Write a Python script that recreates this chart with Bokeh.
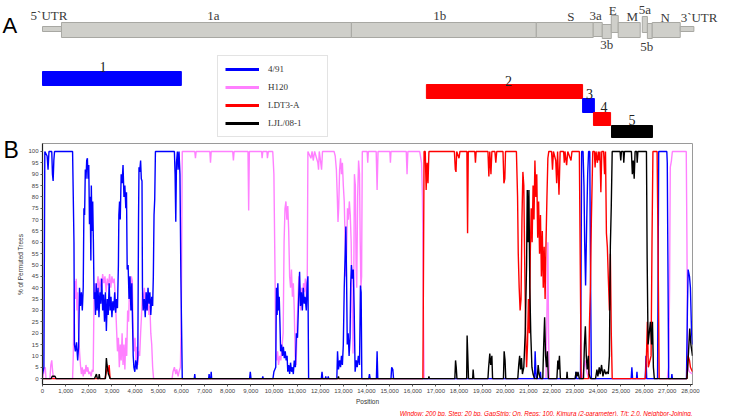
import math
from bokeh.plotting import figure
from bokeh.models import (Range1d, FixedTicker, NumeralTickFormatter,
                          Legend, LegendItem, Title, ColumnDataSource)
from bokeh.layouts import column, row
from bokeh.embed import file_html
from bokeh.resources import INLINE
from bokeh.core.properties import value

# ---------------- data ----------------
series_names = ["4/91", "H120", "LDT3-A", "LJL/08-1"]
series_colors = ["#0000FF", "#FF80FF", "#FF0000", "#000000"]

s_491 = [(0,2),(60,5),(100,100),(200,98),(240,92),(280,100),(400,100),(430,90),(460,87),(490,96),(520,100),
 (1300,100),(1360,60),(1380,15),(1420,12),(1470,16),(1520,8),(1560,14),(1600,40),(1640,32),(1680,38),(1720,30),
 (1760,40),(1790,75),(1820,72),(1850,92),(1880,88),(1910,96),(1940,97),(1970,88),(2000,94),(2030,68),(2060,80),
 (2090,52),(2110,85),(2140,65),(2170,78),(2200,60),(2230,35),(2260,38),(2290,28),(2320,42),(2360,30),(2400,40),
 (2440,27),(2480,38),(2520,33),(2560,44),(2600,30),(2640,37),(2680,25),(2720,38),(2760,21),(2800,35),(2840,28),
 (2880,42),(2920,30),(2960,36),(3000,27),(3040,34),(3080,30),(3120,38),(3160,29),(3200,35),(3240,31),(3280,50),
 (3300,72),(3330,78),(3360,70),(3400,90),(3440,86),(3480,94),(3520,80),(3560,85),(3600,75),(3630,82),(3660,48),
 (3700,50),(3740,35),(3780,45),(3820,30),(3860,42),(3890,25),(3920,10),(3950,5),(3990,3),(4030,8),(4080,4),
 (4120,10),(4150,70),(4170,93),(4200,91),(4240,96),(4270,88),(4300,87),(4320,40),(4350,30),(4400,35),(4440,27),
 (4480,38),(4520,30),(4560,40),(4600,33),(4640,38),(4680,28),(4720,36),(4760,32),(4790,45),(4820,72),(4850,79),
 (4880,100),(5700,100),(5730,90),(5760,69),(5790,95),(5830,100),(5860,92),(5900,100),(5940,90),(5980,45),(6040,0),
 (6560,0),(6580,2),(6600,0),(7180,0),(7200,2),(7220,0),(7270,0),(7290,3),(7310,0),(8950,0),(8980,3),(9010,0),
 (9500,0),(9520,1),(9540,0),(9960,0),(10000,3),(10080,5),(10110,40),(10140,28),(10170,42),(10200,30),(10230,36),
 (10260,25),(10290,12),(10330,15),(10370,10),(10410,14),(10450,9),(10490,12),(10530,8),(10570,10),(10600,3),
 (10640,6),(10680,2),(10720,7),(10760,3),(10800,5),(10840,2),(10880,8),(10930,5),(10970,20),(11020,18),(11070,35),
 (11110,47),(11150,32),(11190,38),(11230,30),(11270,40),(11310,33),(11350,36),(11400,30),(11440,42),(11470,45),
 (11500,0),(12050,0),(12080,3),(12110,0),(12220,0),(12240,1),(12260,0),(12330,0),(12350,1),(12370,0),(12720,0),
 (12750,12),(12790,4),(12840,8),(12880,5),(12920,10),(12960,6),(13000,15),(13040,40),(13080,55),(13110,67),
 (13140,45),(13170,15),(13210,20),(13250,10),(13290,18),(13320,42),(13350,50),(13390,44),(13430,48),(13470,30),
 (13510,3),(13560,8),(13600,5),(13650,10),(13700,6),(13740,41),(13770,38),(13800,0),(14100,0),(14130,2),(14160,0),
 (14430,0),(14460,12),(14490,0),(15060,0),(15090,5),(15140,4),(15170,0),(21260,0),(21290,12),(21320,3),(21350,0),
 (21500,0),(21520,3),(21540,0),(23030,0),(23050,3),(23080,0),(23250,0),(23300,100),(23360,100),(23400,85),
 (23430,60),(23470,41),(23520,70),(23560,90),(23600,100),(23650,100),(23680,50),(23720,0),(25440,0),(25470,5),
 (25500,0),(25670,0),(25690,3),(25710,0),(26050,0),(26080,10),(26110,0),(26580,0),(26630,100),(26980,100),
 (27000,95),(27060,0),(27180,0),(27200,2),(27220,0),(27830,0),(27870,30),(27900,48),(27960,45),(28000,40),
 (28050,20),(28090,15)]

s_h120 = [(0,0),(80,4),(120,5),(150,0),(320,0),(360,6),(400,8),(440,3),(480,0),(1300,0),(1330,10),(1370,35),
 (1400,43),(1430,35),(1460,44),(1490,30),(1520,38),(1560,20),(1600,12),(1640,6),(1680,2),(1720,5),(1760,1),
 (1800,4),(1840,2),(1880,6),(1920,3),(1960,5),(2000,2),(2050,3),(2100,1),(2150,4),(2190,3),(2230,38),(2260,42),
 (2300,35),(2350,40),(2400,45),(2450,38),(2500,44),(2550,40),(2600,46),(2650,42),(2700,45),(2750,38),(2800,44),
 (2850,41),(2900,46),(2950,40),(3000,45),(3050,42),(3100,44),(3150,35),(3200,22),(3240,12),(3280,18),(3320,5),
 (3360,15),(3400,8),(3440,20),(3480,6),(3520,15),(3560,4),(3600,18),(3640,10),(3680,30),(3720,25),(3760,40),
 (3800,35),(3840,45),(3880,43),(3920,20),(3960,12),(4000,18),(4040,8),(4080,14),(4120,6),(4160,12),(4200,10),
 (4240,20),(4280,28),(4320,38),(4360,32),(4400,40),(4440,34),(4480,38),(4520,30),(4560,36),(4600,28),(4640,32),
 (4680,20),(4720,15),(4760,5),(4800,0),(5600,0),(5640,3),(5700,5),(5760,2),(5800,4),(5860,1),(5900,3),(5960,5),
 (6000,30),(6040,100),(6580,100),(6610,97),(6640,100),(7230,100),(7260,95),(7290,100),(8220,100),(8250,96),
 (8280,100),(8880,100),(8910,74),(8940,100),(9470,100),(9490,97),(9520,100),(9700,100),(9720,97),(9760,100),
 (9950,100),(10000,90),(10050,45),(10080,10),(10120,8),(10160,12),(10200,6),(10250,10),(10300,8),(10350,14),
 (10400,20),(10440,60),(10480,75),(10520,78),(10560,70),(10600,76),(10640,65),(10680,45),(10720,40),(10760,48),
 (10800,36),(10840,42),(10880,30),(10920,10),(10960,6),(11000,22),(11040,34),(11080,45),(11120,38),(11160,30),
 (11200,40),(11240,35),(11280,42),(11320,38),(11360,44),(11400,36),(11440,42),(11470,100),(11600,97),(11650,100),
 (11700,96),(11760,100),(11900,95),(11930,92),(11960,100),(12000,97),(12060,92),(12100,100),(12600,100),
 (12650,98),(12700,92),(12740,80),(12770,69),(12800,75),(12840,92),(12880,97),(12920,90),(12960,95),(13000,85),
 (13040,78),(13080,60),(13110,45),(13140,55),(13180,75),(13220,70),(13260,78),(13300,72),(13340,60),(13380,30),
 (13420,11),(13450,40),(13480,90),(13520,85),(13550,50),(13580,40),(13620,80),(13660,96),(13700,90),(13730,60),
 (13760,40),(13790,45),(13820,100),(14030,100),(14055,95),(14080,100),(14420,100),(14460,83),(14500,100),
 (15010,100),(15035,95),(15060,100),(15720,100),(15754,90),(15790,100),(16300,100),(16380,95),(16420,80),
 (16460,30),(16490,0),(21760,0),(21800,30),(21840,60),(21870,20),(21900,0),(23330,0),(23380,4),(23450,8),
 (23520,3),(23600,0),(27000,0),(27060,5),(27100,40),(27130,93),(27180,96),(27220,100),(27820,100),(27850,60),
 (27880,5),(27950,3),(28090,2)]

s_ldt3 = [(0,0),(2700,0),(2740,2),(2800,5),(2850,3),(2880,6),(2920,0),(16440,0),(16490,100),(16540,100),(16580,83),
 (16620,95),(16660,86),(16700,100),(17800,100),(17840,92),(17870,91),(17900,100),(18000,97),(18040,100),
 (18340,100),(18370,64),(18400,100),(18680,100),(18710,95),(18740,100),(19250,100),(19290,89),(19330,100),
 (19380,90),(19420,100),(19550,100),(19590,95),(19630,100),(19900,100),(19940,86),(19980,88),(20010,100),
 (20480,100),(20530,80),(20560,55),(20600,40),(20640,30),(20680,35),(20720,70),(20760,91),(20800,85),(20840,50),
 (20880,20),(20920,5),(20960,15),(21000,35),(21040,20),(21080,55),(21120,75),(21160,60),(21200,85),(21240,70),
 (21280,96),(21320,80),(21360,90),(21400,62),(21440,78),(21480,55),(21520,72),(21560,45),(21600,65),(21640,40),
 (21680,58),(21720,35),(21760,60),(21800,80),(21840,97),(21880,100),(22000,100),(22040,92),(22080,100),
 (22180,96),(22220,86),(22260,100),(22320,81),(22370,100),(22520,100),(22550,95),(22580,100),(22650,94),
 (22700,100),(22840,96),(22880,100),(23200,100),(23240,50),(23280,0),(23600,0),(23640,25),(23680,41),(23720,70),
 (23780,100),(23850,100),(23880,93),(23920,100),(23980,95),(24020,100),(24060,96),(24090,100),(24130,82),
 (24170,100),(24250,100),(24290,90),(24330,100),(24370,64),(24410,58),(24450,45),(24500,30),(24540,55),
 (24580,20),(24620,0),(26050,0),(26100,10),(26140,25),(26180,5),(26300,10),(26340,60),(26380,100),(26560,100),
 (26600,60),(26650,0),(27850,0),(27900,10),(27960,8),(28000,5),(28090,3)]

s_ljl = [(0,0),(380,0),(420,1),(540,1),(580,0),(2250,0),(2290,1),(2330,2),(2370,0),(2430,0),(2450,2),(2480,0),
 (2720,0),(2760,9),(2790,6),(2820,4),(2850,2),(2890,1),(2920,0),(12770,0),(12790,1),(12810,0),(16680,0),
 (16700,1),(16720,0),(17820,0),(17850,8),(17880,5),(17910,0),(18330,0),(18350,19),(18380,10),(18410,0),
 (18590,0),(18610,4),(18640,0),(19250,0),(19280,5),(19330,11),(19370,6),(19420,10),(19450,0),(19920,0),
 (19950,12),(19990,8),(20020,0),(20540,0),(20580,6),(20620,10),(20660,4),(20700,9),(20740,2),(20800,5),
 (20860,20),(20920,50),(20950,83),(20990,60),(21020,83),(21060,40),(21100,20),(21150,5),(21200,2),(21260,0),
 (21380,0),(21420,6),(21460,2),(21520,0),(21620,0),(21660,15),(21700,27),(21740,10),(21780,5),(21820,12),
 (21860,0),(22230,0),(22270,8),(22300,4),(22340,10),(22380,0),(22650,0),(22670,3),(22690,0),(23020,0),
 (23060,3),(23100,1),(23140,3),(23200,0),(23380,0),(23420,15),(23460,23),(23500,10),(23540,4),(23590,10),
 (23620,2),(23680,0),(23900,0),(23960,4),(24000,1),(24060,5),(24100,2),(24160,6),(24220,1),(24280,4),
 (24340,2),(24400,3),(24450,2),(24500,10),(24540,58),(24580,76),(24620,100),(24960,100),(24990,96),(25020,100),
 (25100,100),(25120,95),(25150,100),(25450,100),(25490,90),(25530,96),(25570,88),(25610,100),(25680,100),
 (25700,95),(25730,100),(26100,100),(26130,53),(26170,15),(26220,20),(26270,25),(26320,15),(26360,25),
 (26400,5),(26440,0),(27850,0),(27880,5),(27920,12),(27970,22),(28020,15),(28090,10)]

series_data = [s_491, s_h120, s_ldt3, s_ljl]

x_ticks = list(range(0, 28001, 1000))
y_ticks = list(range(0, 101, 5))

# genome map (panel A)
genome_labels = ["5`UTR", "1a", "1b", "S", "3a", "3b", "E", "M", "5a", "5b", "N", "3`UTR"]
genome_start = [0, 820, 13350, 21340, 23800, 24190, 24580, 24880, 25920, 26140, 26350, 27560]
genome_end = [820, 13350, 21340, 23800, 24190, 24580, 24880, 25830, 26140, 26350, 27560, 28150]

# recombination segments (panel A)
seg_labels = ["1", "2", "3", "4", "5"]
seg_start = [0, 16590, 23340, 23810, 24590]
seg_end = [6000, 23340, 23850, 24550, 26360]
seg_colors = ["#0000FF", "#FF0000", "#0000FF", "#FF0000", "#000000"]

y_title = "% of Permuted Trees"
footnote = ("Window: 200 bp, Step: 20 bp, GapStrip: On, Reps: 100, "
            "Kimura (2-parameter), T/t: 2.0, Neighbor-Joining.")

# ---------------- layout / style (screen rows, px) ----------------
X_MAX = 28090
W, H = 729, 416
TOP_H = 138
B_W = 24
FRAME_L, FRAME_R = 42, 37          # frame edges in page pixels
PX_PER_BP = (W - FRAME_L - FRAME_R) / X_MAX

genome_rows = {"5`UTR": (26, 31), "1a": (22, 37), "1b": (22, 37), "S": (22, 37), "3a": (22, 36),
               "3b": (24, 38), "E": (15, 32), "M": (22, 37), "5a": (16, 32), "5b": (23, 38),
               "N": (22, 37), "3`UTR": (26, 31)}
genome_label_pos = {"5`UTR": (15, -3), "1a": (15, 7), "1b": (15, -4), "S": (16, 6), "3a": (15, -2),
                    "3b": (44, 0), "E": (10, -2), "M": (16, 3), "5a": (9, 0), "5b": (46, -3),
                    "N": (17, -1), "3`UTR": (17, 12)}
seg_rows = [(71, 85), (84, 98), (98, 112), (112, 125), (125, 137)]
seg_label_pos = [(66, -9), (80, 4), (93, 1), (106, 2), (119, 0)]

FONT_SERIF = "Liberation Serif"
FONT_SANS = "Liberation Sans"

# ---------------- panel A ----------------
top = figure(width=W, height=TOP_H, output_backend="svg", toolbar_location=None,
             x_range=Range1d(-FRAME_L / PX_PER_BP, X_MAX + FRAME_R / PX_PER_BP),
             y_range=Range1d(TOP_H, 0), x_axis_location=None, y_axis_location=None,
             min_border_left=0, min_border_right=0, min_border_top=0, min_border_bottom=0)
top.frame_align = False
top.grid.visible = False
top.outline_line_color = None

g_src = ColumnDataSource(dict(
    left=genome_start, right=genome_end,
    top=[genome_rows[n][0] for n in genome_labels],
    bottom=[genome_rows[n][1] for n in genome_labels]))
top.quad(left="left", right="right", top="top", bottom="bottom", source=g_src,
         fill_color="#cfcfca", line_color="#a8a8a3", line_width=1)

gl_x = [(s + e) / 2 + genome_label_pos[n][1] / PX_PER_BP
        for n, s, e in zip(genome_labels, genome_start, genome_end)]
gl_y = [genome_label_pos[n][0] for n in genome_labels]
top.text(x=gl_x, y=gl_y, text=genome_labels, text_font=value(FONT_SERIF),
         text_font_size=value("13px"), text_align="center", text_baseline="middle",
         text_color="#3a3a3a")

s_src = ColumnDataSource(dict(left=seg_start, right=seg_end,
                              top=[r[0] for r in seg_rows], bottom=[r[1] for r in seg_rows],
                              color=seg_colors))
top.quad(left="left", right="right", top="top", bottom="bottom", source=s_src,
         fill_color="color", line_color="color")
sl_x = [(s + e) / 2 + d[1] / PX_PER_BP for s, e, d in zip(seg_start, seg_end, seg_label_pos)]
sl_y = [d[0] for d in seg_label_pos]
top.text(x=sl_x, y=sl_y, text=seg_labels, text_font=value(FONT_SERIF),
         text_font_size=value("14px"), text_align="center", text_baseline="middle",
         text_color="#222222")

top.text(x=[(2 - FRAME_L) / PX_PER_BP], y=[25], text=["A"], text_font=value(FONT_SANS),
         text_font_size=value("22px"), text_align="left", text_baseline="middle", text_color="#000000")

off = -1e7
dummy = [top.line(x=[off, off + 1], y=[0, 0], line_color=c, line_width=3) for c in series_colors]
legend = Legend(items=[LegendItem(label=n, renderers=[r]) for n, r in zip(series_names, dummy)],
                location=(217, 1), orientation="vertical", margin=0, padding=7, spacing=6,
                glyph_width=34, glyph_height=12, label_height=12, label_width=52, label_standoff=9,
                label_text_font=FONT_SERIF, label_text_font_size="9px", label_text_color="#333333",
                border_line_color="#c8c8c8", border_line_width=1, background_fill_color="white",
                background_fill_alpha=1.0)
top.add_layout(legend)

# ---------------- panel B ----------------
BH = H - TOP_H
bfig = figure(width=B_W, height=BH, output_backend="svg", toolbar_location=None,
              x_range=Range1d(0, B_W), y_range=Range1d(BH, 0),
              x_axis_location=None, y_axis_location=None,
              min_border_left=0, min_border_right=0, min_border_top=0, min_border_bottom=0)
bfig.frame_align = False
bfig.grid.visible = False
bfig.outline_line_color = None
bfig.text(x=[3], y=[11], text=["B"], text_font=value(FONT_SANS), text_font_size=value("23px"),
          text_align="left", text_baseline="middle", text_color="#000000")
bfig.text(x=[20], y=[126], text=[y_title], angle=math.pi / 2, text_font=value(FONT_SANS),
          text_font_size=value("6.5px"), text_align="center", text_baseline="middle",
          text_color="#333333")

p = figure(width=W - B_W, height=BH, output_backend="svg", toolbar_location=None,
           x_range=Range1d(0, X_MAX), y_range=Range1d(-2.6, 103.5),
           min_border_left=FRAME_L - B_W, min_border_right=FRAME_R, min_border_top=5)
p.frame_align = False
p.grid.visible = False
p.outline_line_color = "#9a9a9a"

draw_order = [1, 0, 2, 3]
for i in draw_order:
    pts = series_data[i]
    p.line([a for a, _ in pts], [b for _, b in pts], line_color=series_colors[i], line_width=1.4)

p.xaxis.ticker = FixedTicker(ticks=x_ticks)
p.xaxis.formatter = NumeralTickFormatter(format="0,0")
p.yaxis.ticker = FixedTicker(ticks=y_ticks)
p.xaxis.axis_label = "Position"
for ax in (p.xaxis, p.yaxis):
    ax.major_label_text_font = FONT_SANS
    ax.major_label_text_font_size = "6px"
    ax.major_label_text_color = "#444444"
    ax.axis_label_text_font = FONT_SANS
    ax.axis_label_text_font_size = "6.5px"
    ax.axis_label_text_font_style = "normal"
    ax.axis_label_text_color = "#333333"
    ax.axis_label_standoff = 2
    ax.major_label_standoff = 2
    ax.minor_tick_line_color = None
    ax.major_tick_in = 0
    ax.major_tick_out = 2
    ax.axis_line_color = "#222222"
    ax.axis_line_width = 1.2
    ax.major_tick_line_color = "#555555"

p.add_layout(Title(text=footnote, align="right", text_color="#FF0000", text_font_style="italic",
                   text_font=FONT_SANS, text_font_size="6.3px", standoff=0), "below")

layout = column(top, row(bfig, p, spacing=0), spacing=0)
open("out.html", "w").write(file_html(layout, INLINE))
